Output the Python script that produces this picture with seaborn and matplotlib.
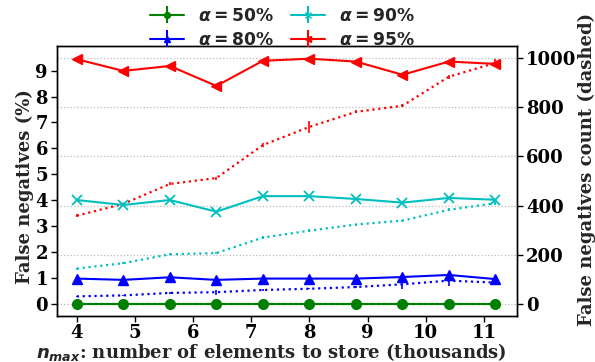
import matplotlib
matplotlib.use("Agg")
import matplotlib.pyplot as plt
import seaborn as sns
import numpy as np

# n_max in thousands
n_max = [4.0, 4.8, 5.6, 6.4, 7.2, 8.0, 8.8, 9.6, 10.4, 11.2]

alphas = ["50%", "80%", "90%", "95%"]
colors = ["g", "b", "c", "r"]
markers = ["o", "^", "x", "<"]

# false negative rate (%) -- solid lines, left axis
rate_50 = [0.01, 0.01, 0.01, 0.01, 0.01, 0.01, 0.01, 0.01, 0.01, 0.01]
rate_80 = [0.98, 0.93, 1.03, 0.93, 0.98, 0.98, 0.98, 1.04, 1.12, 0.96]
rate_90 = [4.01, 3.82, 4.01, 3.56, 4.16, 4.16, 4.05, 3.91, 4.09, 4.02]
rate_95 = [9.44, 8.99, 9.18, 8.41, 9.38, 9.46, 9.35, 8.84, 9.35, 9.26]
rate_err_50 = [0.0] * 10
rate_err_80 = [0.03, 0.03, 0.03, 0.03, 0.03, 0.03, 0.03, 0.12, 0.09, 0.03]
rate_err_90 = [0.03] * 10
rate_err_95 = [0.03] * 10

# false negative count -- dotted lines, right axis
count_50 = [1, 1, 1, 1, 1, 1, 1, 1, 1, 1]
count_80 = [31, 35, 45, 48, 57, 62, 69, 80, 95, 87]
count_90 = [144, 166, 202, 207, 270, 298, 323, 339, 383, 410]
count_95 = [359, 407, 488, 512, 646, 720, 781, 806, 924, 980]
count_err_50 = [0] * 10
count_err_80 = [3, 3, 3, 10, 3, 3, 3, 18, 22, 4]
count_err_90 = [4, 4, 4, 5, 7, 6, 4, 4, 6, 8]
count_err_95 = [5, 5, 6, 6, 8, 25, 6, 6, 8, 14]

rates = [rate_50, rate_80, rate_90, rate_95]
rate_errs = [rate_err_50, rate_err_80, rate_err_90, rate_err_95]
counts = [count_50, count_80, count_90, count_95]
count_errs = [count_err_50, count_err_80, count_err_90, count_err_95]

sns.set_style("ticks")
plt.rcParams["font.family"] = ["DejaVu Serif"]
plt.rcParams["font.weight"] = "bold"
plt.rcParams["axes.labelweight"] = "bold"
plt.rcParams["mathtext.fontset"] = "dejavusans"

FS = 13
LEG_FS = 12.3

fig = plt.figure(figsize=(5.95, 3.62), dpi=100)
ax = fig.add_axes([57 / 595, 46 / 362, 460 / 595, 270 / 362])
ax2 = ax.twinx()

# dotted count curves on the right axis
for c, e, col in zip(counts, count_errs, colors):
    sns.lineplot(x=n_max, y=c, color=col, ax=ax2, linestyle=":",
                 linewidth=1.6, zorder=2)
    ax2.errorbar(n_max, c, yerr=e, fmt="none", ecolor=col,
                 elinewidth=1.2, zorder=2)

# solid rate curves on the left axis
for r, e, col, m in zip(rates, rate_errs, colors, markers):
    sns.lineplot(x=n_max, y=r, color=col, ax=ax, marker=m, markersize=7,
                 markeredgecolor=col, markerfacecolor=col,
                 markeredgewidth=1.3 if m == "x" else 1,
                 linewidth=1.5, zorder=3)
    ax.errorbar(n_max, r, yerr=e, fmt="none", ecolor=col,
                elinewidth=1.2, zorder=3)

# keep the solid series above the dotted ones
ax.set_zorder(ax2.get_zorder() + 1)
ax.patch.set_visible(False)

ax.set_xlim(3.66, 11.57)
ax.set_ylim(-0.463, 9.95)
ax2.set_ylim(-48.8, 1048.8)
ax.set_xticks([4, 5, 6, 7, 8, 9, 10, 11])
ax.set_yticks(range(0, 10))
ax2.set_yticks([0, 200, 400, 600, 800, 1000])
ax2.grid(axis="y", linestyle=":", color="#bbbbbb", linewidth=0.9)
ax.grid(False)

for a in (ax, ax2):
    a.tick_params(labelsize=FS, width=1, length=4, pad=2.5, colors="black")
    for s in a.spines.values():
        s.set_color("black")
        s.set_linewidth(1)
    for t in a.get_xticklabels() + a.get_yticklabels():
        t.set_fontweight("bold")
ax.tick_params(axis="x", pad=1.5)

ax.set_xlabel(r"$\boldsymbol{n_{max}}$: number of elements to store (thousands)",
              fontsize=FS, fontweight="bold")
ax.set_ylabel("False negatives (%)", fontsize=FS, fontweight="bold")
ax2.set_ylabel("False negatives count (dashed)", fontsize=FS, fontweight="bold")
ax.xaxis.set_label_coords(0.467, -0.093)
ax.yaxis.set_label_coords(-0.051, 0.478)
ax2.yaxis.set_label_coords(1.132, 0.544)

# legend entries styled as error-bar handles
handles = []
for a_lbl, col, m in zip(alphas, colors, markers):
    h = ax.errorbar([np.nan], [np.nan], yerr=[1], color=col, marker=m,
                    markersize=7, linewidth=1.5,
                    label=r"$\boldsymbol{\alpha = " + a_lbl.replace("%", r"\%") + "}$")
    handles.append(h)
leg = ax.legend(handles=handles, loc="center", bbox_to_anchor=(0.49, 1.066),
                ncol=2, frameon=False, fontsize=LEG_FS, markerscale=0.6,
                columnspacing=1.0, handletextpad=0.8, labelspacing=0.42)

fig.savefig("out.png", dpi=100)
